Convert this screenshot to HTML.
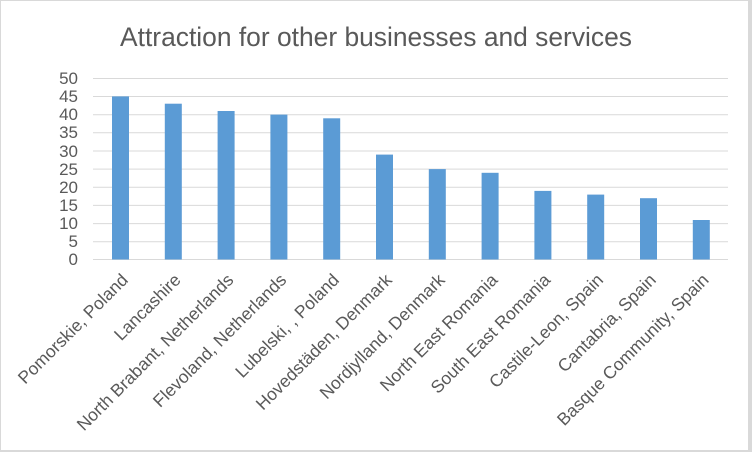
<!DOCTYPE html>
<html><head><meta charset="utf-8"><style>
html,body{margin:0;padding:0;background:#fff}
svg{display:block;font-family:"Liberation Sans",sans-serif}
</style></head><body>
<svg width="752" height="452" viewBox="0 0 752 452">
<rect x="0" y="0" width="752" height="452" fill="#d9d9d9"/>
<rect x="1" y="1" width="747" height="449" fill="#fff"/>
<text x="376" y="46" text-anchor="middle" font-size="26.4" fill="#595959">Attraction for other businesses and services</text>
<g stroke="#d9d9d9" stroke-width="1">
<line x1="93" x2="728" y1="78.5" y2="78.5"/>
<line x1="93" x2="728" y1="96.5" y2="96.5"/>
<line x1="93" x2="728" y1="114.7" y2="114.7"/>
<line x1="93" x2="728" y1="132.8" y2="132.8"/>
<line x1="93" x2="728" y1="151" y2="151"/>
<line x1="93" x2="728" y1="169.1" y2="169.1"/>
<line x1="93" x2="728" y1="187.3" y2="187.3"/>
<line x1="93" x2="728" y1="205.4" y2="205.4"/>
<line x1="93" x2="728" y1="223.6" y2="223.6"/>
<line x1="93" x2="728" y1="241.7" y2="241.7"/>
<line x1="93" x2="728" y1="259.5" y2="259.5"/>
</g>
<g font-size="17" fill="#595959" text-anchor="end">
<text x="78" y="84">50</text><text x="78" y="102">45</text><text x="78" y="120">40</text>
<text x="78" y="138">35</text><text x="78" y="157">30</text><text x="78" y="175">25</text>
<text x="78" y="193">20</text><text x="78" y="211">15</text><text x="78" y="229">10</text>
<text x="78" y="247">5</text><text x="78" y="265">0</text>
</g>
<g fill="#5b9bd5">
<rect x="112" y="96.4" width="17" height="163.1"/>
<rect x="164.8" y="103.7" width="17" height="155.8"/>
<rect x="217.6" y="111" width="17" height="148.5"/>
<rect x="270.4" y="114.6" width="17" height="144.9"/>
<rect x="323.2" y="118.3" width="17" height="141.2"/>
<rect x="376" y="154.6" width="17" height="104.9"/>
<rect x="428.8" y="169.1" width="17" height="90.4"/>
<rect x="481.6" y="172.8" width="17" height="86.7"/>
<rect x="534.4" y="190.9" width="17" height="68.6"/>
<rect x="587.2" y="194.6" width="17" height="64.9"/>
<rect x="640" y="198.2" width="17" height="61.3"/>
<rect x="692.8" y="220" width="17" height="39.5"/>
</g>
<g font-size="17.5" fill="#595959" text-anchor="end">
<text transform="translate(129,281) rotate(-45)">Pomorskie, Poland</text>
<text transform="translate(181.8,281) rotate(-45)">Lancashire</text>
<text transform="translate(234.6,281) rotate(-45)">North Brabant, Netherlands</text>
<text transform="translate(287.4,281) rotate(-45)">Flevoland, Netherlands</text>
<text transform="translate(340.2,281) rotate(-45)">Lubelski, , Poland</text>
<text transform="translate(393,281) rotate(-45)">Hovedstäden, Denmark</text>
<text transform="translate(445.8,281) rotate(-45)">Nordjylland, Denmark</text>
<text transform="translate(498.6,281) rotate(-45)">North East Romania</text>
<text transform="translate(551.4,281) rotate(-45)">South East Romania</text>
<text transform="translate(604.2,281) rotate(-45)">Castile-Leon, Spain</text>
<text transform="translate(657,281) rotate(-45)">Cantabria, Spain</text>
<text transform="translate(709.8,281) rotate(-45)">Basque Community, Spain</text>
</g>
</svg>
</body></html>
